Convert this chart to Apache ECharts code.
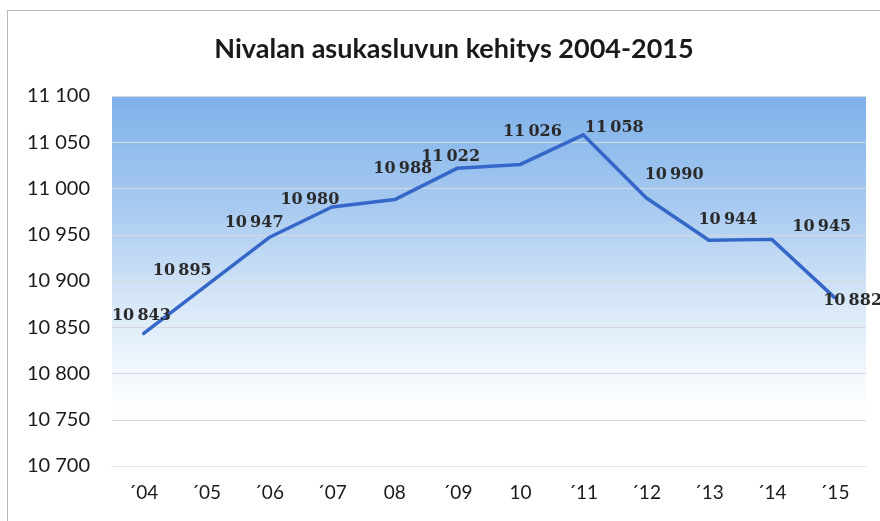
<!DOCTYPE html>
<html>
<head>
<meta charset="utf-8">
<script src="https://cdn.jsdelivr.net/npm/echarts@6/dist/echarts.min.js"></script>
<style>
html,body{margin:0;padding:0;background:#fff;}
#frame{position:absolute;left:7px;top:10px;width:900px;height:600px;border-left:1px solid #b8b8b8;border-top:1px solid #b8b8b8;}
#chart{position:absolute;left:0;top:0;width:880px;height:521px;}
</style>
</head>
<body>
<div id="frame"></div>
<div id="chart"></div>
<script>
// Data
const years = ['\u00B404','\u00B405','\u00B406','\u00B407','08','\u00B409','10','\u00B411','\u00B412','\u00B413','\u00B414','\u00B415'];
const population = [10843, 10895, 10947, 10980, 10988, 11022, 11026, 11058, 10990, 10944, 10945, 10882];
const yTicks = [10700, 10750, 10800, 10850, 10900, 10950, 11000, 11050, 11100];
const titleText = 'Nivalan asukasluvun kehitys 2004-2015';

// Label placement (styling, not data)
const labelOffsets = [[-2,-3],[-24,0],[-15,0],[-22,7],[8,-16],[-7,3],[12,-18],[31,7],[28,-8],[19,-6],[50,2],[18,18]];

function fmt(v, sep){
  const s = String(v);
  return s.slice(0, s.length-3) + sep + s.slice(s.length-3);
}

const chart = echarts.init(document.getElementById('chart'));
chart.setOption({
  animation: false,
  backgroundColor: 'transparent',
  title: {
    text: titleText,
    left: 449,
    textAlign: 'center',
    top: 31,
    textStyle: { fontFamily: 'Lato', fontWeight: 'bold', fontSize: 27, color: '#1a1a1a' }
  },
  grid: {
    left: 112, right: 14, top: 96, bottom: 55,
    show: true,
    borderWidth: 0,
    backgroundColor: new echarts.graphic.LinearGradient(0, 0, 0, 1, [
      { offset: 0, color: '#7db1ea' },
      { offset: 0.3, color: '#a8caf0' },
      { offset: 0.55, color: '#d6e6f8' },
      { offset: 0.75, color: '#f3f8fd' },
      { offset: 0.86, color: '#ffffff' },
      { offset: 1, color: '#ffffff' }
    ])
  },
  xAxis: {
    type: 'category',
    data: years,
    boundaryGap: true,
    axisLine: { show: true, lineStyle: { color: '#e4e4e4', width: 1 } },
    axisTick: { show: false },
    axisLabel: { fontFamily: 'Lato', fontSize: 19, color: '#1a1a1a', margin: 17 }
  },
  yAxis: {
    type: 'value',
    min: yTicks[0],
    max: yTicks[yTicks.length-1],
    interval: yTicks[1]-yTicks[0],
    axisLine: { show: false },
    axisTick: { show: false },
    splitLine: { show: true, lineStyle: { color: '#d4d9e0', width: 1 } },
    axisLabel: {
      fontFamily: 'Lato', fontSize: 20, color: '#1a1a1a', margin: 22,
      formatter: v => fmt(v, ' ')
    }
  },
  series: [{
    type: 'line',
    data: population.map((v, i) => ({
      value: v,
      label: { offset: labelOffsets[i] }
    })),
    symbol: 'circle',
    symbolSize: 3,
    showSymbol: true,
    itemStyle: { color: '#3567c9' },
    lineStyle: { color: '#3567c9', width: 3.5 },
    label: {
      show: true,
      position: 'top',
      distance: 5,
      fontFamily: 'DejaVu Serif',
      fontWeight: 'bold',
      fontSize: 16,
      color: '#2a2a2a',
      formatter: p => fmt(p.value, '\u2009')
    }
  }]
});
</script>
</body>
</html>
